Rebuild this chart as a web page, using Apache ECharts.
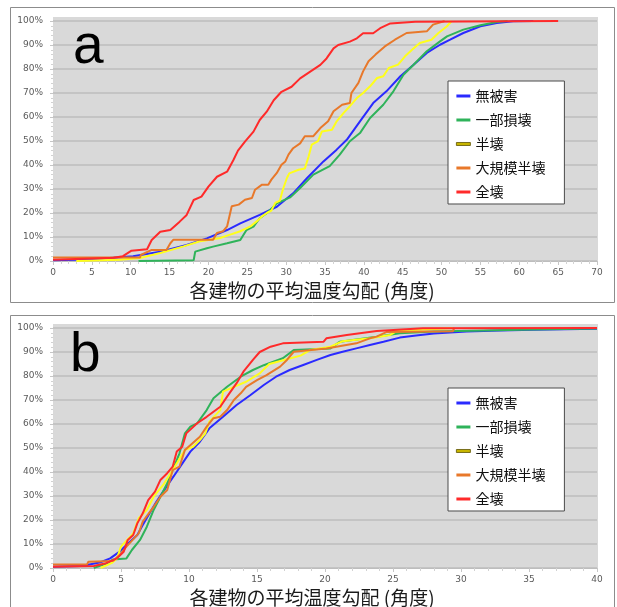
<!DOCTYPE html>
<html><head><meta charset="utf-8">
<script src="https://cdn.jsdelivr.net/npm/echarts@6/dist/echarts.min.js"></script>
<style>html,body{margin:0;padding:0;background:#fff}#c{width:617px;height:607px}</style>
</head><body><div id="c"></div>
<script>
// ---- data ----
const seriesNames = ['無被害', '一部損壊', '半壊', '大規模半壊', '全壊'];
const seriesColors = ['#2a2aff', '#2fb35a', '#ffff1a', '#e8782a', '#ff2a2a'];
const panelLetters = ['a', 'b'];
const axisTitle = '各建物の平均温度勾配 (角度)';
const xMaxA = 70, xMaxB = 40;

// panel a : [angle, cumulative %]
const aBlue = [[0,0.3],[3,0.5],[6.4,1],[10.3,2],[13.8,3.9],[17.2,6.7],[19.8,9.4],[22.4,12.9],[24.1,15.7],[26.6,19.2],[28.8,22.6],[30.9,28.2],[32.7,34.6],[34.8,41.5],[36.5,46.4],[37.8,50.5],[39.5,58.2],[41.2,65.8],[42.9,70.7],[44.7,77],[46.4,81.8],[48.1,86.7],[49.8,90.1],[51.1,92.2],[52.8,95],[55,97.8],[57.1,99.2],[59.2,99.9],[61.8,100]];
const aGreen = [[11,0],[18.1,0.3],[18.3,3.9],[19.8,5.3],[20.6,6],[22.4,7.4],[24.1,8.75],[24.9,12.9],[25.8,14.3],[26.6,17.8],[27.5,19.9],[28.8,24],[30.5,26.5],[31.8,30.4],[33.5,36],[35.6,39.5],[36.9,44.3],[38.2,49.9],[39.5,53.3],[40.8,59.6],[42.5,65.1],[43.8,70.7],[45.1,77.6],[46.4,81.8],[48.1,87.4],[49.8,91.5],[50.7,93.6],[52.8,96.4],[55,98.2],[57.1,99.6],[58.5,100]];
const aYellow = [[3,0],[8.6,0.5],[11.2,1.25],[13.8,3.3],[16.8,6.1],[18.9,8.2],[20.2,8.9],[21.5,9.6],[22.8,11],[24.1,12.4],[25.4,14.4],[26.2,16.5],[26.9,18.6],[27.5,20],[28.1,21],[28.6,24.2],[29.2,25.2],[29.6,30],[30.1,34.6],[30.4,36.5],[31.6,38],[32.4,38.5],[32.9,43.6],[33.3,48.5],[34.1,49.9],[34.6,54],[35.9,54.7],[36.5,58.2],[37.4,61.7],[38.2,64.5],[39.1,67.9],[39.9,70],[40.8,72.8],[41.7,76.25],[42.5,77],[43.2,80.4],[44.4,81.8],[45.3,85.3],[46.2,88],[47.2,90.8],[48.7,92.2],[49.6,95],[50.7,97.8],[51.3,100]];
const aOrange = [[0,1.5],[11.2,1.5],[11.3,2.5],[12.7,4.6],[14.6,4.6],[15.1,7.4],[15.5,8.9],[20.6,8.9],[21.1,11.7],[21.9,12.4],[22.4,14.4],[23.0,22.8],[23.9,23.5],[24.7,25.5],[25.6,26.25],[26.0,29.7],[26.9,31.8],[27.7,31.8],[28.1,33.9],[28.8,36.7],[29.4,40.1],[29.9,41.5],[30.3,44.3],[30.9,47],[31.8,49],[32.4,52],[33.5,52],[34.4,55.4],[35.4,58.2],[36.1,62.4],[37.2,65.1],[38.2,65.8],[38.4,70],[39.3,74.2],[39.9,79],[40.6,83.2],[41.5,86],[42.7,89.4],[44.0,92.2],[45.5,95],[48.1,95.7],[48.9,98.5],[50.4,100]];
const aRed = [[0,0.5],[7.8,1.4],[9,2],[10.1,4.3],[12.1,4.9],[12.7,8.75],[13.8,12.2],[15.1,12.9],[16.3,16.4],[17.2,19.2],[18.1,25.4],[19.1,26.8],[20.0,31],[21.1,35.1],[22.4,37.2],[23.2,42],[23.8,46],[24.7,49.7],[25.8,53.9],[26.6,58.75],[27.5,62.2],[28.4,67],[29.4,70.5],[30.7,72.6],[31.8,76.1],[33.1,78.9],[34.4,81.7],[35.2,84.4],[36.1,88.6],[36.7,90],[38.2,91.4],[39.1,92.8],[39.9,94.9],[41.2,94.9],[42.1,97],[43.4,99],[46.6,99.7],[65,100]];

// panel b : [angle, cumulative %]
const bBlue = [[0,0.5],[2,0.8],[2.5,1.25],[3.5,2.4],[4.2,4],[4.9,6.8],[5.4,9.6],[6.2,13.75],[6.6,17.9],[7.1,22.8],[7.6,27.6],[8.1,31.8],[8.6,36],[9.1,40.1],[9.6,44.3],[10.1,48.5],[10.8,52.6],[11.5,58.2],[12.5,63],[13.5,67.9],[14.5,72],[15.5,76.25],[16.4,79.7],[17.4,82.5],[18.4,84.6],[19.4,86.7],[20.4,88.75],[21.3,90.1],[22.3,91.5],[23.3,92.9],[24.3,94.3],[25.5,96],[26.7,96.9],[28,97.7],[30.4,98.5],[32.9,99],[35.3,99.3],[40,99.7]];
const bGreen = [[3.0,0],[3.5,1],[4.0,2],[4.4,3.5],[5.4,4],[5.8,7.5],[6.4,11.7],[6.9,17.2],[7.4,24.2],[7.9,29.7],[8.4,35.3],[8.8,40.8],[9.3,47.8],[9.7,56.1],[10.1,58.9],[10.6,60.3],[11.3,65.8],[11.8,70.7],[12.8,75.5],[13.8,79.7],[14.7,82.5],[15.5,84.5],[16.9,87.4],[17.7,90.8],[20.4,91.5],[21.1,94.3],[23.8,96.4],[25.5,97.8],[28,98.5],[35.3,99.4],[40,99.8]];
const bYellow = [[3.5,0],[4.3,2],[4.7,4],[5.0,8.9],[5.9,14.4],[6.3,20.7],[6.9,24.2],[7.4,29.7],[8.1,34.6],[8.8,40.8],[9.7,49.2],[10.3,50.5],[10.8,53.3],[11.2,56.1],[11.5,61],[12.3,65.8],[12.5,73.5],[13.3,75.5],[14.2,77.6],[15.2,81.1],[15.9,85],[17.2,87],[18.2,88.5],[18.9,90.8],[20.4,92.2],[21.3,94.5],[23.3,95.7],[24.8,97.1],[25.3,98.75],[29.4,100]];
const bOrange = [[0,1.5],[2.5,1.5],[2.6,2.6],[4.4,2.9],[4.9,5.4],[5.4,8.9],[6.3,14.4],[6.6,19.3],[7.4,25.5],[7.9,29.7],[8.4,32.5],[8.8,40.8],[9.3,42.2],[9.7,49.2],[10.8,54.7],[11.3,58.9],[11.8,62.4],[12.3,63],[12.8,65.8],[13.3,70],[13.8,72.8],[14.2,75.5],[15.0,78.3],[15.7,80.4],[16.7,83.9],[17.2,86.7],[17.7,90.1],[20.1,91.5],[22.3,93.6],[23.3,95.7],[23.8,96.4],[24.5,98.3],[29.4,98.6],[29.5,100]];
const bRed = [[0,0.5],[3,0.8],[3.9,2],[4.7,4],[5.2,6.8],[5.5,11.7],[5.9,13.75],[6.2,18.6],[6.6,22.8],[7.0,28.3],[7.5,31.8],[7.9,36.7],[8.4,39.5],[8.8,42.2],[9.1,48.5],[9.5,50.5],[9.8,56.1],[10.6,60.3],[11.3,63],[12.3,67.2],[12.8,71.4],[13.5,77],[14.0,81.8],[14.7,86.7],[15.2,90],[16,92.2],[16.9,93.6],[19.9,94.3],[20.1,95.7],[21.6,97.1],[23.8,98.75],[27.2,99.9],[40,100]];

const panelA = [aBlue, aGreen, aYellow, aOrange, aRed];
const panelB = [bBlue, bGreen, bYellow, bOrange, bRed];

// ---- chart ----
const chart = echarts.init(document.getElementById('c'), null, {renderer: 'canvas'});
const labelFont = {fontSize: 9, color: '#5a5a5a', fontFamily: 'DejaVu Sans'};
const gridTops = [21, 328];

function xAxisFor(i, max) {
  return {
    gridIndex: i, type: 'value', min: 0, max: max, interval: 5,
    axisLine: {show: true, lineStyle: {color: '#bdbdbd', width: 1}},
    axisTick: {show: true, length: 4, lineStyle: {color: '#c6c6c6'}},
    minorTick: {show: true, splitNumber: 5, length: 3, lineStyle: {color: '#d2d2d2'}},
    axisLabel: Object.assign({margin: 7}, labelFont),
    splitLine: {show: false}
  };
}
function yAxisFor(i) {
  return {
    gridIndex: i, type: 'value', min: 0, max: 100, interval: 10,
    axisLine: {show: false},
    axisTick: {show: true, length: 3, lineStyle: {color: '#c6c6c6'}},
    minorTick: {show: true, splitNumber: 5, length: 2, lineStyle: {color: '#d2d2d2'}},
    axisLabel: Object.assign({margin: 10, formatter: '{value}%'}, labelFont),
    splitLine: {show: true, lineStyle: {color: '#bcbcbc', width: 1.5}}
  };
}

const series = [];
[panelA, panelB].forEach((panel, pi) => {
  panel.forEach((data, si) => {
    series.push({
      type: 'line', name: seriesNames[si], xAxisIndex: pi, yAxisIndex: pi,
      data: data, showSymbol: false, symbol: 'none',
      lineStyle: {color: seriesColors[si], width: 2},
      itemStyle: {color: seriesColors[si]},
      z: 2 + si
    });
  });
});

function legendFor(top) {
  return {
    orient: 'vertical', left: 448, top: top,
    backgroundColor: '#fff', borderColor: '#4a4a4a', borderWidth: 1,
    padding: [8, 19, 5, 8], itemGap: 10, itemWidth: 14, itemHeight: 3,
    icon: 'rect', selectedMode: false,
    textStyle: {fontSize: 14, color: '#111', fontFamily: 'Noto Sans CJK JP'},
    data: seriesNames.map((n, i) => i === 2
      ? {name: n, itemStyle: {color: '#c8b600', borderColor: '#5d5300', borderWidth: 0.8}}
      : {name: n})
  };
}

const graphics = [];
graphics.push({type: 'rect', shape: {x: 10.5, y: 7.5, width: 604, height: 295}, style: {fill: '#fff', stroke: '#8c8c8c', lineWidth: 1}, z: -10});
graphics.push({type: 'rect', shape: {x: 10.5, y: 315.5, width: 604, height: 300}, style: {fill: '#fff', stroke: '#8c8c8c', lineWidth: 1}, z: -10});
graphics.push({type: 'rect', shape: {x: 53, y: 17, width: 545, height: 245}, style: {fill: '#d9d9d9'}, z: -5});
graphics.push({type: 'rect', shape: {x: 53, y: 324, width: 545, height: 245}, style: {fill: '#d9d9d9'}, z: -5});
graphics.push({type: 'text', x: 73, y: 47.5, style: {text: panelLetters[0], font: '55px "Liberation Sans", Arial, sans-serif', fill: '#000', textAlign: 'left', textVerticalAlign: 'middle'}, z: 10});
graphics.push({type: 'text', x: 70, y: 356, style: {text: panelLetters[1], font: '55px "Liberation Sans", Arial, sans-serif', fill: '#000', textAlign: 'left', textVerticalAlign: 'middle'}, z: 10});
graphics.push({type: 'text', x: 312, y: 290.5, style: {text: axisTitle, font: '19px "Noto Sans CJK JP", sans-serif', fill: '#1a1a1a', textAlign: 'center', textVerticalAlign: 'middle'}, z: 10});
graphics.push({type: 'text', x: 312, y: 598, style: {text: axisTitle, font: '19px "Noto Sans CJK JP", sans-serif', fill: '#1a1a1a', textAlign: 'center', textVerticalAlign: 'middle'}, z: 10});

chart.setOption({
  animation: false,
  backgroundColor: '#fff',
  grid: [
    {left: 53, top: gridTops[0], right: 20, height: 240, containLabel: false},
    {left: 53, top: gridTops[1], right: 20, height: 240, containLabel: false}
  ],
  xAxis: [xAxisFor(0, xMaxA), xAxisFor(1, xMaxB)],
  yAxis: [yAxisFor(0), yAxisFor(1)],
  legend: [legendFor(81), legendFor(388)],
  graphic: {elements: graphics},
  series: series
});
</script></body></html>
